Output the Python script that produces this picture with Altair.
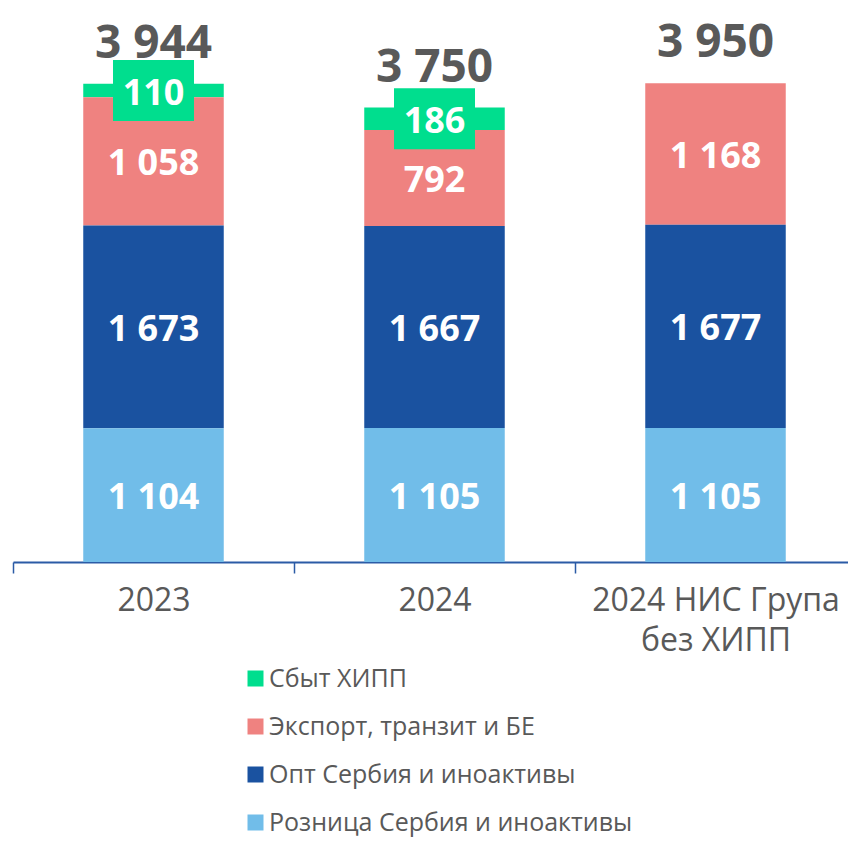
import altair as alt
import pandas as pd

categories = ["2023", "2024", "2024 НИС Група\nбез ХИПП"]
series = ["Сбыт ХИПП", "Экспорт, транзит и БЕ", "Опт Сербия и иноактивы", "Розница Сербия и иноактивы"]
colors = ["#00DE8E", "#EF8280", "#1A52A0", "#71BDE9"]

hipp = [110, 186, 0]
export = [1058, 792, 1168]
wholesale = [1673, 1667, 1677]
retail = [1104, 1105, 1105]
totals = [3944, 3750, 3950]


def fmt(v):
    return f"{v:,}".replace(",", " ")


rows = []
stack_order = {series[3]: 0, series[2]: 1, series[1]: 2, series[0]: 3}
for i, c in enumerate(categories):
    for s, vals in zip(series, [hipp, export, wholesale, retail]):
        v = vals[i]
        if v <= 0:
            continue
        rows.append({"category": c, "series": s, "value": v,
                     "order": stack_order[s], "label": fmt(v)})
df = pd.DataFrame(rows)
tot = pd.DataFrame({"category": categories, "total": totals,
                    "label": [fmt(t) for t in totals]})

FONT = "Open Sans"
GRAY = "#595959"
AXIS_BLUE = "#2B5BA6"

xscale = alt.Scale(range=[0, 843], paddingInner=0, paddingOuter=0)
xenc = alt.X("category:N", sort=categories, title=None, scale=xscale,
             axis=alt.Axis(labelAngle=0, labelFontSize=32, labelFont=FONT,
                           labelColor=GRAY, labelLimit=400, labelPadding=12,
                           labelLineHeight=40,
                           labelExpr="split(datum.label, '\\n')",
                           domainColor=AXIS_BLUE, domainWidth=2,
                           tickColor=AXIS_BLUE, tickWidth=1.5, tickSize=11,
                           tickBand="extent"))
xsimple = alt.X("category:N", sort=categories, scale=xscale)
yscale = alt.Scale(domain=[0, 4571], nice=False, zero=True)

base = alt.Chart(df).transform_stack(
    stack="value", groupby=["category"], as_=["y0", "y1"],
    sort=[alt.SortField("order", order="ascending")]
).transform_calculate(mid="(datum.y0 + datum.y1) / 2")

bars = base.mark_bar(width=alt.RelativeBandSize(0.5)).encode(
    x=xenc,
    y=alt.Y("y0:Q", scale=yscale, axis=None),
    y2="y1:Q",
    color=alt.Color("series:N", scale=alt.Scale(domain=series, range=colors),
                    legend=alt.Legend(title=None, orient="none", legendX=230, legendY=658,
                                      labelFont=FONT, labelFontSize=25, labelColor=GRAY,
                                      symbolType="square", symbolSize=256,
                                      symbolStrokeWidth=0, symbolOpacity=1,
                                      rowPadding=22, labelOffset=1, padding=0,
                                      labelLimit=600)),
)

boxes = base.transform_filter(alt.datum.series == series[0]).mark_point(
    shape="M-1,-0.753H1V0.753H-1Z", filled=True, opacity=1, size=6561,
    strokeWidth=0, color=colors[0]
).encode(
    x=xsimple,
    y=alt.Y("mid:Q", scale=yscale, axis=None),
)

seg_text = base.mark_text(font=FONT, fontWeight="bold", fontSize=36,
                          color="white", dy=3).encode(
    x=xsimple,
    y=alt.Y("mid:Q", scale=yscale, axis=None),
    text="label:N",
)

tot_text = alt.Chart(tot).mark_text(font=FONT, fontWeight="bold", fontSize=46,
                                    color=GRAY, dy=-40).encode(
    x=xsimple,
    y=alt.Y("total:Q", scale=yscale, axis=None),
    text="label:N",
)

chart = alt.layer(bars, boxes, seg_text, tot_text).properties(
    width=835, height=554,
    padding={"left": 5, "top": 0, "right": 0, "bottom": 276},
    autosize=alt.AutoSizeParams(type="none"),
).configure_view(stroke=None)

chart.save("out.html", embed_options={"renderer": "svg", "actions": False})
